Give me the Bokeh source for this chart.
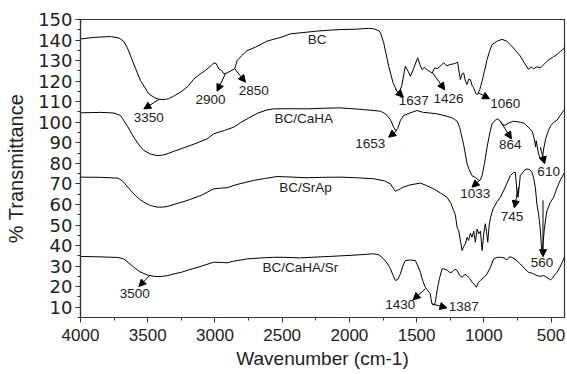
from bokeh.plotting import figure
from bokeh.models import Range1d, Arrow, NormalHead, ColumnDataSource, FixedTicker
from bokeh.core.properties import value
from bokeh.embed import file_html
from bokeh.resources import INLINE

# ---- data ----
bc_wn = [4000, 3900, 3777, 3715, 3680, 3653, 3604, 3554, 3492, 3450, 3418, 3380, 3343, 3300, 3256, 3200, 3158, 3110,
         3071, 3030, 3009, 2990, 2972, 2950, 2934, 2910, 2885, 2853, 2835, 2800, 2761, 2700, 2612, 2500, 2439, 2364,
         2250, 2150, 2067, 1950, 1860, 1819, 1780, 1769, 1745, 1708, 1675, 1646, 1630, 1610, 1584, 1565, 1546, 1520,
         1492, 1475, 1460, 1440, 1423, 1405, 1385, 1365, 1348, 1320, 1299, 1275, 1249, 1220, 1195, 1185, 1175, 1162,
         1150, 1137, 1125, 1112, 1100, 1088, 1076, 1060, 1046, 1030, 1013, 995, 976, 955, 939, 900, 865, 830, 803,
         765, 729, 700, 667, 650, 630, 605, 580, 555, 530, 490, 456, 430, 406, 400]
bc_t = [140.5, 141.3, 141.7, 141.0, 139.5, 136.5, 128.4, 120.3, 113.8, 112.0, 111.2, 111.0, 111.5, 113.0, 114.6, 117.5,
        121.0, 123.5, 125.2, 127.5, 128.9, 128.5, 126.0, 125.2, 123.6, 124.0, 124.9, 126.0, 130.0, 132.5, 134.9, 136.5,
        139.5, 141.5, 143.0, 143.5, 144.3, 144.8, 145.1, 145.3, 145.7, 145.5, 144.5, 143.5, 138.7, 127.3, 119.2, 115.1,
        114.3, 118.0, 127.3, 125.0, 122.4, 126.5, 131.4, 128.0, 125.7, 126.8, 125.5, 124.8, 124.0, 126.5, 126.0, 127.5,
        128.9, 127.5, 128.1, 128.5, 129.2, 125.0, 120.8, 123.5, 124.0, 120.0, 118.4, 121.0, 120.8, 118.0, 116.8, 114.0,
        113.5, 116.0, 120.0, 125.0, 130.5, 135.0, 137.8, 139.5, 140.3, 139.5, 137.8, 135.0, 132.2, 129.0, 125.7, 127.0,
        126.0, 127.0, 126.5, 128.0, 129.7, 131.5, 133.0, 134.5, 135.7, 136.5]

caha_wn = [4000, 3850, 3752, 3703, 3653, 3604, 3560, 3529, 3480, 3430, 3390, 3356, 3300, 3256, 3150, 3058, 3009, 2930,
           2860, 2810, 2750, 2680, 2612, 2563, 2450, 2315, 2200, 2067, 1900, 1769, 1730, 1695, 1670, 1655, 1640, 1620,
           1596, 1550, 1497, 1450, 1400, 1348, 1280, 1230, 1199, 1180, 1162, 1150, 1125, 1113, 1088, 1060, 1038, 1026,
           1013, 995, 976, 955, 939, 915, 902, 880, 864, 840, 820, 780, 729, 700, 660, 640, 625, 615, 610, 600, 590,
           575, 565, 555, 540, 520, 500, 480, 456, 430, 406, 400]
caha_t = [104.6, 104.8, 104.5, 103.3, 98.4, 92.7, 88.5, 86.3, 84.5, 83.8, 84.0, 84.6, 86.0, 87.0, 89.5, 91.9, 94.4, 96.0,
          97.6, 99.8, 102.0, 104.5, 106.0, 106.5, 106.6, 106.5, 106.8, 107.0, 106.2, 105.4, 104.0, 101.3, 97.5, 96.0,
          97.0, 101.0, 103.3, 104.5, 105.7, 104.8, 104.5, 104.1, 103.0, 102.0, 100.5, 97.5, 92.5, 89.0, 80.0, 77.5,
          74.0, 73.0, 71.7, 72.0, 74.0, 80.0, 87.9, 95.0, 99.2, 101.0, 101.7, 100.8, 99.0, 98.5, 99.5, 100.5, 100.0,
          99.5, 97.0, 95.5, 92.0, 88.0, 91.0, 87.0, 84.0, 81.5, 82.0, 87.0, 92.0, 96.0, 98.5, 100.0, 101.0, 103.5,
          105.7, 106.3]

srap_wn = [4000, 3850, 3720, 3690, 3678, 3650, 3604, 3560, 3529, 3480, 3430, 3390, 3356, 3280, 3207, 3100, 3009, 2950,
           2910, 2850, 2712, 2630, 2538, 2420, 2315, 2200, 2067, 1950, 1819, 1740, 1695, 1670, 1658, 1640, 1621, 1600,
           1550, 1472, 1420, 1373, 1320, 1274, 1245, 1224, 1212, 1199, 1187, 1162, 1150, 1137, 1125, 1113, 1100, 1088,
           1075, 1063, 1050, 1038, 1025, 1013, 1000, 989, 980, 971, 960, 951, 930, 900, 877, 840, 803, 780, 766, 758,
           752, 745, 735, 729, 700, 679, 660, 642, 630, 617, 605, 593, 580, 570, 565, 558, 550, 540, 530, 505, 481,
           456, 430, 406, 400]
srap_t = [73.3, 73.2, 72.8, 71.5, 70.8, 68.5, 65.2, 62.5, 61.1, 59.5, 58.7, 58.7, 59.0, 60.5, 61.9, 64.5, 67.6, 68.0,
          68.1, 69.5, 71.7, 72.6, 73.6, 73.3, 73.0, 73.2, 73.3, 73.0, 72.5, 71.5, 70.0, 67.5, 66.5, 67.0, 67.6, 68.4,
          69.5, 70.4, 69.0, 67.6, 65.5, 63.5, 60.5, 57.0, 55.0, 48.9, 47.3, 37.6, 39.5, 40.8, 44.0, 42.5, 46.0, 44.1,
          47.0, 41.6, 48.0, 45.7, 47.0, 37.6, 46.0, 50.6, 47.0, 41.6, 50.0, 53.5, 58.0, 61.5, 63.5, 68.5, 74.0, 75.5,
          75.7, 70.0, 64.0, 63.5, 70.0, 74.0, 76.5, 77.3, 77.0, 75.7, 73.0, 68.4, 60.0, 55.4, 48.0, 38.0, 36.0, 42.0,
          48.0, 53.0, 57.0, 61.0, 63.5, 68.0, 72.0, 74.8, 75.5]

sr_wn = [4000, 3850, 3720, 3678, 3640, 3604, 3560, 3504, 3450, 3405, 3350, 3306, 3250, 3207, 3100, 3009, 2950, 2910,
         2870, 2761, 2650, 2563, 2488, 2364, 2250, 2150, 2067, 1950, 1819, 1780, 1745, 1720, 1695, 1675, 1658, 1640,
         1621, 1600, 1584, 1546, 1509, 1490, 1472, 1455, 1435, 1415, 1398, 1390, 1385, 1370, 1361, 1348, 1330, 1311,
         1290, 1274, 1255, 1237, 1215, 1199, 1180, 1162, 1140, 1125, 1105, 1088, 1070, 1056, 1040, 1026, 1000, 976,
         951, 927, 900, 877, 850, 828, 822, 810, 791, 760, 729, 700, 667, 640, 605, 580, 555, 530, 505, 490, 475,
         456, 430, 406, 400]
sr_t = [34.7, 34.5, 34.2, 33.5, 31.5, 29.5, 27.3, 25.7, 25.0, 24.9, 25.4, 26.2, 27.0, 27.9, 30.0, 31.9, 31.8, 31.6,
        32.3, 33.5, 34.0, 34.3, 34.3, 34.0, 34.4, 34.7, 35.0, 35.4, 36.0, 35.5, 33.5, 31.5, 28.7, 25.5, 23.0, 23.5,
        26.2, 30.5, 32.7, 33.0, 32.7, 30.0, 27.0, 23.0, 19.7, 18.0, 16.5, 13.0, 11.6, 11.0, 12.5, 18.1, 24.0, 28.7,
        28.5, 28.2, 27.0, 27.0, 28.5, 27.9, 25.5, 24.6, 26.0, 25.4, 24.0, 22.2, 21.0, 19.7, 22.0, 23.0, 24.5, 26.2,
        29.5, 33.5, 34.3, 34.3, 34.0, 33.0, 33.5, 34.5, 34.3, 33.0, 31.1, 29.0, 27.0, 26.5, 25.4, 25.0, 25.4, 24.5,
        23.3, 24.0, 25.5, 27.0, 30.0, 33.5, 34.5]

# annotation labels (text, x, y) and arrows (from -> to)
label_text = ["BC", "BC/CaHA", "BC/SrAp", "BC/CaHA/Sr", "3350", "2900", "2850", "1637", "1426", "1060",
              "1653", "864", "610", "1033", "745", "560", "3500", "1430", "1387"]
label_x = [2240, 2340, 2327, 2364, 3492, 3033, 2711, 1522, 1262, 840, 1844, 803, 518, 1063, 791, 567, 3596, 1621, 1150]
label_y = [140.3, 101.8, 68.4, 29.5, 102.5, 110.9, 115.5, 110.6, 111.4, 109.0, 89.5, 89.2, 76.2, 65.2, 54.3, 31.9, 16.5,
           11.3, 10.3]
arrow_x0 = [3418, 2922, 2853, 1660, 1385, 1038, 1646, 872, 580, 1026, 741, 560, 3485, 1435, 1385]
arrow_y0 = [111.0, 123.6, 126.0, 116.0, 124.4, 114.2, 96.0, 100.0, 87.9, 72.0, 68.4, 62.0, 25.4, 19.0, 11.6]
arrow_x1 = [3529, 2984, 2773, 1600, 1291, 957, 1708, 795, 548, 1088, 773, 560, 3566, 1526, 1274]
arrow_y1 = [106.5, 115.1, 119.5, 112.3, 115.8, 111.4, 92.7, 91.9, 79.8, 68.4, 58.4, 34.6, 20.1, 13.6, 9.7]

x_ticks = [500, 1000, 1500, 2000, 2500, 3000, 3500, 4000]
y_ticks = [10, 20, 30, 40, 50, 60, 70, 80, 90, 100, 110, 120, 130, 140, 150]

FONT = "Liberation Sans"

p = figure(width=567, height=374, output_backend="svg", toolbar_location=None,
           x_range=Range1d(4000, 400), y_range=Range1d(5, 150),
           min_border_left=80, min_border_right=3, min_border_top=19, min_border_bottom=57)
p.xgrid.visible = False
p.ygrid.visible = False
p.outline_line_color = "#333333"
p.outline_line_width = 1.2
p.background_fill_color = "white"
p.border_fill_color = "white"

for wn, t in [(bc_wn, bc_t), (caha_wn, caha_t), (srap_wn, srap_t), (sr_wn, sr_t)]:
    p.line(wn, t, line_color="black", line_width=1)

src = ColumnDataSource(dict(x=label_x, y=label_y, t=label_text))
p.text(x="x", y="y", text="t", source=src, text_align="center", text_baseline="middle",
       text_font=value(FONT), text_font_size="13.5px", text_color="#222222")

asrc = ColumnDataSource(dict(x0=arrow_x0, y0=arrow_y0, x1=arrow_x1, y1=arrow_y1))
p.add_layout(Arrow(x_start="x0", y_start="y0", x_end="x1", y_end="y1", source=asrc,
                   line_color="black", line_width=1,
                   end=NormalHead(size=7, fill_color="black", line_color="black")))

x_minor = [v - 250 for v in x_ticks] + [x_ticks[-1]]
y_minor = [v - 5 for v in y_ticks] + [y_ticks[-1]]
p.xaxis.ticker = FixedTicker(ticks=x_ticks, minor_ticks=x_minor)
p.yaxis.ticker = FixedTicker(ticks=y_ticks, minor_ticks=y_minor)

for ax in (p.xaxis[0], p.yaxis[0]):
    ax.axis_line_color = "#333333"
    ax.axis_line_width = 1.2
    ax.major_tick_in = 0
    ax.major_tick_out = 5
    ax.minor_tick_in = 0
    ax.minor_tick_out = 3
    ax.major_tick_line_color = "#333333"
    ax.minor_tick_line_color = "#333333"
    ax.major_label_text_font = FONT
    ax.major_label_text_font_size = "17px"
    ax.major_label_text_color = "#222222"
    ax.axis_label_text_font = FONT
    ax.axis_label_text_font_style = "normal"
    ax.axis_label_text_color = "#222222"

p.xaxis.axis_label = "Wavenumber (cm-1)"
p.yaxis.axis_label = "% Transmittance"
p.xaxis.axis_label_text_font_size = "19px"
p.yaxis.axis_label_text_font_size = "20px"
p.yaxis.major_label_text_font = "DejaVu Sans"
p.yaxis.major_label_text_font_size = "18px"
p.xaxis.major_label_standoff = 6
p.xaxis.axis_label_standoff = 4
p.yaxis.major_label_standoff = 3
p.yaxis.axis_label_standoff = 8

open("out.html", "w").write(file_html(p, INLINE))
